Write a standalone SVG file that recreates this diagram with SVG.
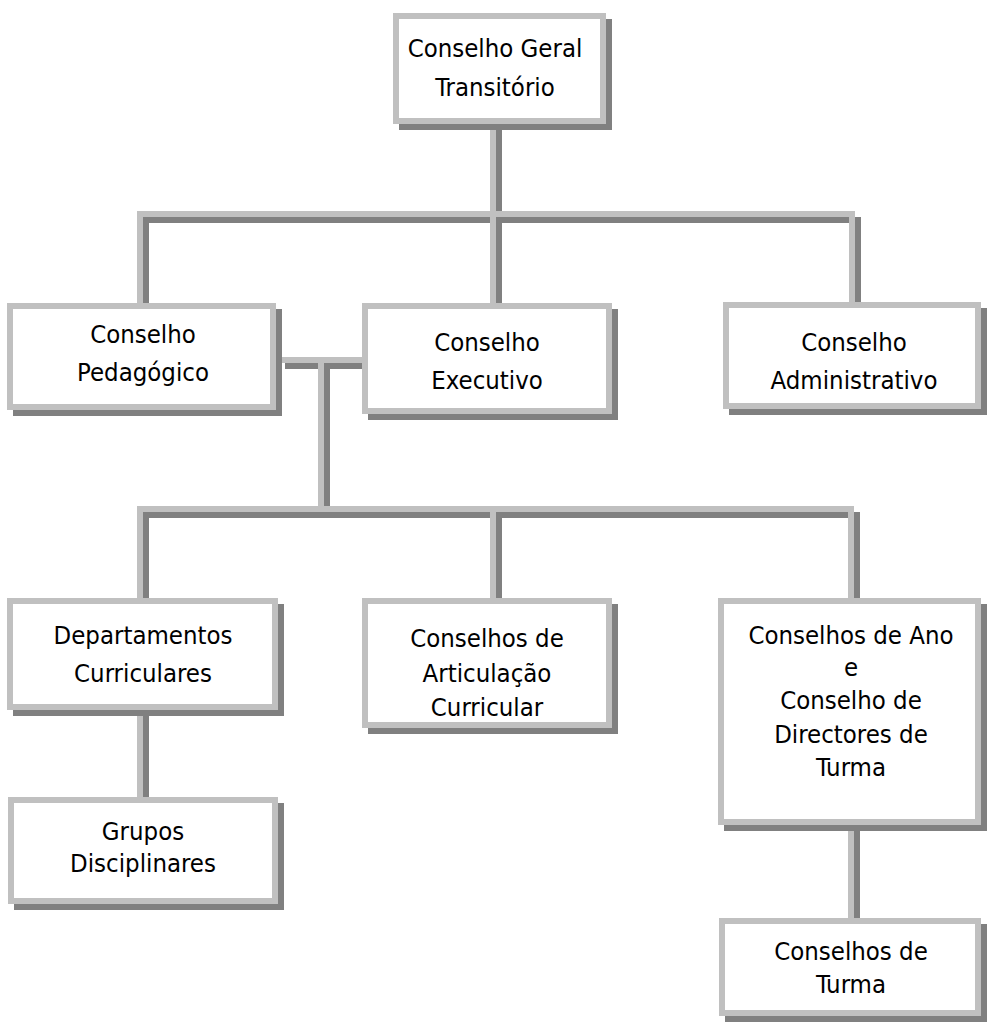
<svg xmlns="http://www.w3.org/2000/svg" width="987" height="1028" viewBox="0 0 987 1028">
<style>
.sh{fill:#808080}
.bx{fill:#fff;stroke:#c0c0c0;stroke-width:6}
.cd{fill:none;stroke:#808080;stroke-width:6;stroke-linejoin:miter;stroke-linecap:square}
.cl{fill:none;stroke:#c0c0c0;stroke-width:6;stroke-linejoin:miter;stroke-linecap:square}
text{font-family:"DejaVu Sans Condensed","DejaVu Sans",sans-serif;font-stretch:condensed;font-size:25.5px;fill:#000;text-anchor:middle}
</style>
<rect width="987" height="1028" fill="#fff"/>
<g id="connectors">
<g transform="translate(6,6)">
<path class="cd" d="M493 124V214H140V303M493 214V303M852 214H140M852 214V303"/>
<path class="cd" d="M282 360H362M321 360V509M140 509H851M140 509V598M493 509V598M851 509V598"/>
<path class="cd" d="M140 710V797M851 825V918"/>
</g>
<path class="cl" d="M493 124V214H140V303M493 214V303M852 214H140M852 214V303"/>
<path class="cl" d="M282 360H362M321 360V509M140 509H851M140 509V598M493 509V598M851 509V598"/>
<path class="cl" d="M140 710V797M851 825V918"/>
</g>
<g id="n-cgt">
<rect class="sh" x="399" y="19" width="213" height="111"/>
<rect class="bx" x="396" y="16" width="207" height="105"/>
<text x="495" y="57">Conselho Geral</text>
<text x="495" y="96">Transitório</text>
</g>
<g id="n-cp">
<rect class="sh" x="13" y="309" width="269" height="107"/>
<rect class="bx" x="10" y="306" width="263" height="101"/>
<text x="143" y="343">Conselho</text>
<text x="143" y="381">Pedagógico</text>
</g>
<g id="n-ce">
<rect class="sh" x="368" y="309" width="250" height="111"/>
<rect class="bx" x="365" y="306" width="244" height="105"/>
<text x="487" y="351">Conselho</text>
<text x="487" y="389">Executivo</text>
</g>
<g id="n-ca">
<rect class="sh" x="729" y="308" width="258" height="107"/>
<rect class="bx" x="726" y="305" width="252" height="101"/>
<text x="854" y="351">Conselho</text>
<text x="854" y="389">Administrativo</text>
</g>
<g id="n-dc">
<rect class="sh" x="13" y="604" width="271" height="112"/>
<rect class="bx" x="10" y="601" width="265" height="106"/>
<text x="143" y="644">Departamentos</text>
<text x="143" y="682">Curriculares</text>
</g>
<g id="n-cac">
<rect class="sh" x="368" y="604" width="250" height="130"/>
<rect class="bx" x="365" y="601" width="244" height="124"/>
<text x="487" y="647">Conselhos de</text>
<text x="487" y="682">Articulação</text>
<text x="487" y="716">Curricular</text>
</g>
<g id="n-cano">
<rect class="sh" x="724" y="604" width="263" height="227"/>
<rect class="bx" x="721" y="601" width="257" height="221"/>
<text x="851" y="644">Conselhos de Ano</text>
<text x="851" y="676">e</text>
<text x="851" y="709">Conselho de</text>
<text x="851" y="743">Directores de</text>
<text x="851" y="776">Turma</text>
</g>
<g id="n-gd">
<rect class="sh" x="14" y="803" width="270" height="107"/>
<rect class="bx" x="11" y="800" width="264" height="101"/>
<text x="143" y="840">Grupos</text>
<text x="143" y="872">Disciplinares</text>
</g>
<g id="n-ct">
<rect class="sh" x="725" y="924" width="262" height="98"/>
<rect class="bx" x="722" y="921" width="256" height="92"/>
<text x="851" y="960">Conselhos de</text>
<text x="851" y="993">Turma</text>
</g>
</svg>
